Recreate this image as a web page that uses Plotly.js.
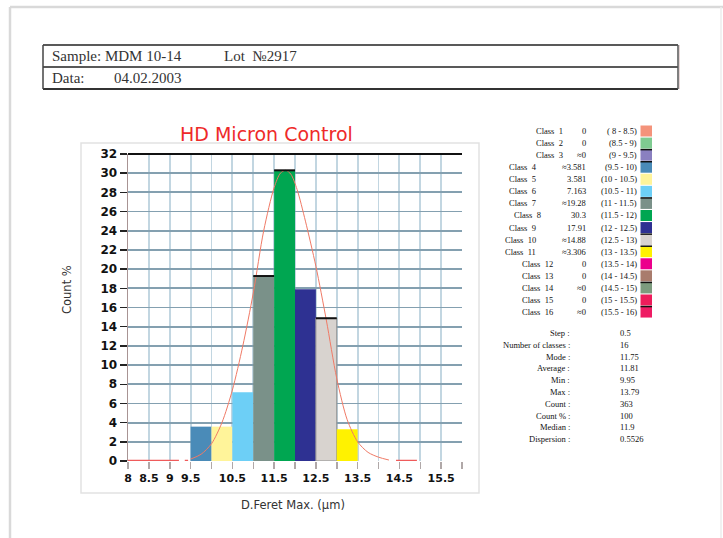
<!DOCTYPE html>
<html>
<head>
<meta charset="utf-8">
<script src="https://cdn.plot.ly/plotly-3.0.1.min.js"></script>
<style>
  html, body { margin: 0; padding: 0; background: #ffffff; }
  #chart { width: 723px; height: 538px; }
</style>
</head>
<body>
<div id="chart"></div>
<script>
// ---------------- DATA ----------------
const classNames = ["1","2","3","4","5","6","7","8","9","10","11","12","13","14","15","16"];
const classLo = [8, 8.5, 9, 9.5, 10, 10.5, 11, 11.5, 12, 12.5, 13, 13.5, 14, 14.5, 15, 15.5];
const classHi = [8.5, 9, 9.5, 10, 10.5, 11, 11.5, 12, 12.5, 13, 13.5, 14, 14.5, 15, 15.5, 16];
const classValues = [0, 0, 0, 3.581, 3.581, 7.163, 19.28, 30.3, 17.91, 14.88, 3.306, 0, 0, 0, 0, 0];
const valueLabels = ["0", "0", "\u22480", "\u22483.581", "3.581", "7.163", "\u224819.28", "30.3", "17.91", "\u224814.88", "\u22483.306", "0", "0", "\u22480", "0", "\u22480"];
const rangeLabels = ["( 8 - 8.5)", "(8.5 - 9)", "(9 - 9.5)", "(9.5 - 10)", "(10 - 10.5)", "(10.5 - 11)", "(11 - 11.5)", "(11.5 - 12)", "(12 - 12.5)", "(12.5 - 13)", "(13 - 13.5)", "(13.5 - 14)", "(14 - 14.5)", "(14.5 - 15)", "(15 - 15.5)", "(15.5 - 16)"];
const classColors = ["#f4937b", "#7fcb91", "#8a80c0", "#4a8bb8", "#fff49a", "#6dcff6", "#7a9189", "#00a651", "#2e3192", "#d8d3cf", "#fff200", "#ec008c", "#a97c6d", "#7c9b7e", "#ed1c5b", "#ee1c64"];
const blackTop = [false, false, false, false, false, false, true, true, false, true, false, false, false, false, false, false];

// fitted curve
const curveX = [9.5, 9.75, 10, 10.25, 10.5, 10.75, 11, 11.25, 11.5, 11.65, 11.78, 11.9, 12.05, 12.25, 12.5, 12.75, 13, 13.25, 13.5, 13.75, 14, 14.25];
const curveY = [0.2, 0.7, 1.8, 4.0, 7.4, 12.0, 17.5, 24.0, 28.5, 30.0, 30.3, 29.9, 28.3, 25.0, 20.3, 14.7, 8.6, 4.3, 2.0, 0.9, 0.4, 0.1];
// curve tails lying on the zero line
const tailX = [8, 9.22, null, 9.36, 9.44, null, 14.42, 14.92];
const tailY = [0, 0, null, 0, 0, null, 0, 0];

const xTickVals = [8, 8.5, 9, 9.5, 10, 10.5, 11, 11.5, 12, 12.5, 13, 13.5, 14, 14.5, 15, 15.5, 16];
const xTickText = ["8", "8.5", "9", "9.5", "", "10.5", "", "11.5", "", "12.5", "", "13.5", "", "14.5", "", "15.5", ""];
const yTickVals = [0, 2, 4, 6, 8, 10, 12, 14, 16, 18, 20, 22, 24, 26, 28, 30, 32];

const statLabels = ["Step :", "Number of classes :", "Mode :", "Average :", "Min :", "Max :", "Count :", "Count % :", "Median :", "Dispersion :"];
const statValues = ["0.5", "16", "11.75", "11.81", "9.95", "13.79", "363", "100", "11.9", "0.5526"];

const sampleText = "Sample: MDM 10-14";
const lotText = "Lot  \u21162917";
const dataLabel = "Data:";
const dateText = "04.02.2003";
const chartTitle = "HD Micron Control";
const xTitle = "D.Feret Max. (\u03bcm)";
const yTitle = "Count %";

// ---------------- LAYOUT HELPERS (pixels -> paper) ----------------
const PL = 128, PR = 462, PT = 154, PB = 461;
const W = 723, H = 538;
const X = p => (p - PL) / (PR - PL);
const Y = p => (PB - p) / (PB - PT);

// ---------------- TRACES ----------------
const centers = classLo.map((lo, i) => (lo + classHi[i]) / 2);
const widths = classLo.map((lo, i) => classHi[i] - lo);

const barTrace = {
  type: "bar",
  x: centers,
  y: classValues,
  width: widths,
  marker: {
    color: classColors,
    line: {
      color: classValues.map((v, i) => i === 9 ? "#8f8f8f" : "rgba(0,0,0,0)"),
      width: classValues.map((v, i) => i === 9 ? 1 : 0)
    }
  },
  hoverinfo: "x+y",
  showlegend: false
};

const topX = [], topY = [];
classValues.forEach((v, i) => {
  if (blackTop[i]) { topX.push(classLo[i], classHi[i], null); topY.push(v, v, null); }
});
const topTrace = {
  type: "scatter", mode: "lines", x: topX, y: topY,
  line: { color: "#111111", width: 2 }, hoverinfo: "skip", showlegend: false
};

const curveTrace = {
  type: "scatter", mode: "lines", x: curveX, y: curveY,
  line: { color: "#f07a66", width: 1, shape: "spline", smoothing: 0.8 },
  hoverinfo: "skip", showlegend: false
};
const tailTrace = {
  type: "scatter", mode: "lines", x: tailX, y: tailY,
  line: { color: "#ef5b5b", width: 2.5 },
  hoverinfo: "skip", showlegend: false, cliponaxis: false
};

// ---------------- ANNOTATIONS ----------------
const annotations = [];
const ann = (text, px, py, xa, opts) => annotations.push(Object.assign({
  text: text, x: X(px), y: Y(py), xref: "paper", yref: "paper",
  xanchor: xa, yanchor: "middle", showarrow: false,
  font: { family: "Liberation Serif", size: 8.5, color: "#111111" }
}, opts || {}));

// header table text
const headFont = { family: "Liberation Serif", size: 15, color: "#333333" };
ann(sampleText, 50, 56, "left", { font: headFont });
ann(lotText, 222, 56, "left", { font: headFont });
ann(dataLabel, 50, 78, "left", { font: headFont });
ann(dateText, 112, 78, "left", { font: headFont });

// chart title & axis titles
ann(chartTitle, 266, 134, "center", { font: { family: "DejaVu Sans", size: 19, color: "#ee2a2a" } });
ann(xTitle, 293, 505, "center", { font: { family: "DejaVu Sans", size: 11.5, color: "#333333" } });
ann(yTitle, 67, 290, "center", { textangle: -90, font: { family: "DejaVu Sans", size: 11.5, color: "#333333" } });

// class legend
const rowY0 = 131, rowDY = 12.07;
const labelLeft = i => (i < 3 ? 534 : (i === 7 ? 512 : (i === 9 || i === 10 ? 503 : (i >= 11 ? 520 : 507))));
const shapes = [];
classNames.forEach((n, i) => {
  const cy = rowY0 + i * rowDY;
  ann("Class\u00a0\u00a0" + n, labelLeft(i), cy, "left");
  ann(valueLabels[i], 588, cy, "right");
  ann(rangeLabels[i], 639, cy, "right");
  shapes.push({
    type: "rect", xref: "paper", yref: "paper",
    x0: X(640.5), x1: X(652), y0: Y(cy - 5.5), y1: Y(cy + 5.5),
    fillcolor: classColors[i], line: { width: 0 }
  });
  if (valueLabels[i].indexOf("\u2248") === 0) {
    shapes.push({
      type: "line", xref: "paper", yref: "paper",
      x0: X(640.5), x1: X(652), y0: Y(cy - 5.5), y1: Y(cy - 5.5),
      line: { color: "#111111", width: 1.5 }
    });
  }
});

// statistics
statLabels.forEach((t, i) => {
  const cy = 333 + i * 11.8;
  ann(t, 572, cy, "right");
  ann(statValues[i], 618, cy, "left");
});

// ---------------- DECORATION SHAPES ----------------
const pline = (x0, y0, x1, y1, color, w) => shapes.push({
  type: "line", xref: "paper", yref: "paper",
  x0: X(x0), y0: Y(y0), x1: X(x1), y1: Y(y1), line: { color: color, width: w }
});
// page border
pline(10, 7, 723, 7, "#d9d9d9", 2.5);
pline(10, 7, 10, 538, "#d9d9d9", 2.5);
pline(721, 7, 721, 538, "#ececec", 1.5);
// header table
pline(43, 45, 678, 45, "#222222", 1.5);
pline(43, 67, 678, 67, "#222222", 1.5);
pline(43, 89, 678, 89, "#333333", 2);
pline(43, 45, 43, 89, "#444444", 1.5);
pline(678, 45, 678, 89, "#555555", 1.5);
pline(679.5, 45, 679.5, 89, "#e6d6d6", 1);
// chart frame
shapes.push({
  type: "rect", xref: "paper", yref: "paper",
  x0: X(81), x1: X(479), y0: Y(143), y1: Y(493),
  line: { color: "#e2e2e2", width: 1.5 }, fillcolor: "rgba(0,0,0,0)", layer: "below"
});
// top border of plot
shapes.push({
  type: "line", xref: "paper", yref: "paper", x0: 0, x1: 1, y0: 1, y1: 1,
  line: { color: "#111111", width: 2 }
});

const layout = {
  width: W, height: H,
  margin: { l: PL, r: W - PR, t: PT, b: H - PB, pad: 0 },
  paper_bgcolor: "#ffffff",
  plot_bgcolor: "#ffffff",
  showlegend: false,
  bargap: 0,
  xaxis: {
    range: [8, 16], fixedrange: true,
    tickmode: "array", tickvals: xTickVals, ticktext: xTickText,
    ticks: "outside", ticklen: 7, tickcolor: "#b0a8a8", tickwidth: 1.5,
    showgrid: true, gridcolor: "#c2d6e1", gridwidth: 1.8,
    zeroline: false, showline: false,
    tickfont: { family: "DejaVu Sans", size: 11, color: "#111111", weight: "bold" }
  },
  yaxis: {
    range: [0, 32], fixedrange: true,
    tickmode: "array", tickvals: yTickVals,
    ticks: "outside", ticklen: 7, tickcolor: "#222222", tickwidth: 1.5,
    showgrid: true, gridcolor: "#84a0b0", gridwidth: 1.8,
    zeroline: false, showline: true, linecolor: "#a89494", linewidth: 1.5,
    tickfont: { family: "DejaVu Sans", size: 12, color: "#111111", weight: "bold" }
  },
  annotations: annotations,
  shapes: shapes
};

Plotly.newPlot("chart", [barTrace, curveTrace, tailTrace, topTrace], layout, { displayModeBar: false, staticPlot: true });
</script>
</body>
</html>
